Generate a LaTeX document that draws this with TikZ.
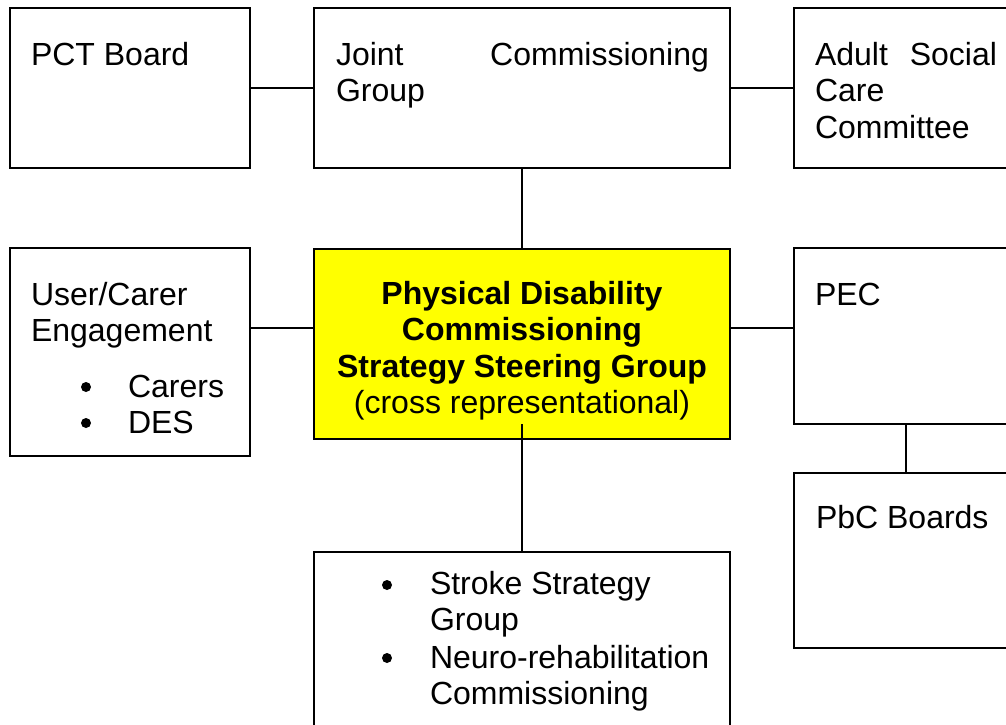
\documentclass[tikz,border=0pt]{standalone}
\usepackage{fontspec}
\setmainfont{Liberation Sans}
\usetikzlibrary{calc}
\definecolor{steerfill}{RGB}{255,255,0}
% stacked lines, first baseline is the box baseline
\newcommand\leftlines[1]{\vtop{\halign{##\hfil\cr#1\crcr}}}
\newcommand\midlines[1]{\vtop{\halign{\hfil##\hfil\cr#1\crcr}}}
\begin{document}
\begin{tikzpicture}[x=1pt,y=-1pt,
  box/.style={draw=black, line width=1.8pt, fill=white, rectangle,
    inner sep=0pt, outer sep=0pt, anchor=north west},
  lbl/.style={inner sep=0pt, outer sep=0pt, anchor=base west,
    font=\fontsize{32}{36.6}\selectfont},
  link/.style={draw=black, line width=1.8pt},
  dot/.style={circle, fill=black, draw=none, inner sep=0pt, minimum size=10pt}]
\useasboundingbox (0,0) rectangle (1006,724);
\clip (0,0) rectangle (1006,724);
\fill[white] (0,0) rectangle (1006,724);

% boxes
\node[box, minimum width=240, minimum height=160] (pct) at (10,8) {};
\node[box, minimum width=416, minimum height=160] (jcg) at (314,8) {};
\node[box, minimum width=224, minimum height=160] (asc) at (794,8) {};
\node[box, minimum width=240, minimum height=208] (usr) at (10,248) {};
\node[box, minimum width=416, minimum height=190, fill=steerfill] (pds) at (314,249) {};
\node[box, minimum width=224, minimum height=176] (pec) at (794,248) {};
\node[box, minimum width=224, minimum height=175] (pbc) at (794,473) {};
\node[box, minimum width=416, minimum height=200] (sub) at (314,552) {};

% box texts
\node[lbl] (tpct) at (31,65) {PCT Board};
\node[lbl] (tjcg) at (336,65) {\leftlines{\hbox to 373pt{Joint\hfill Commissioning}\cr Group}};
\node[lbl] (tasc) at (815,65) {\leftlines{\hbox to 182pt{Adult\hfill Social}\cr Care\cr Committee}};
\node[lbl] (tusr) at (31,305) {\leftlines{User/Carer\cr Engagement}};
\node[dot] (b1) at (86,387) {};
\node[lbl] (tcar) at (128,397) {Carers};
\node[dot] (b2) at (86,423) {};
\node[lbl] (tdes) at (128,433) {DES};
\node[lbl, anchor=base] (tpds) at (522,304) {\midlines{\textbf{Physical Disability}\cr
  \textbf{Commissioning}\cr \textbf{Strategy Steering Group}\cr (cross representational)}};
\node[lbl] (tpec) at (815,305) {PEC};
\node[lbl] (tpbc) at (816,528) {PbC Boards};
\node[dot] (b3) at (387,585) {};
\node[lbl] (tstr) at (430,594) {\leftlines{Stroke Strategy\cr Group}};
\node[dot] (b4) at (387,658) {};
\node[lbl] (tneu) at (430,668) {\leftlines{Neuro-rehabilitation\cr Commissioning}};

% connectors
\coordinate (row) at (522,328);
\coordinate (tail) at (522,424);
\draw[link] (pct.east) -- (jcg.west);
\draw[link] (jcg.east) -- (asc.west);
\draw[link] (jcg.south) -- (pds.north);
\draw[link] (usr.east |- row) -- (pds.west |- row);
\draw[link] (pds.east |- row) -- (pec.west |- row);
\draw[link] (pec.south) -- (pbc.north);
\draw[link] (sub.north) -- (tail);
\end{tikzpicture}
\end{document}
